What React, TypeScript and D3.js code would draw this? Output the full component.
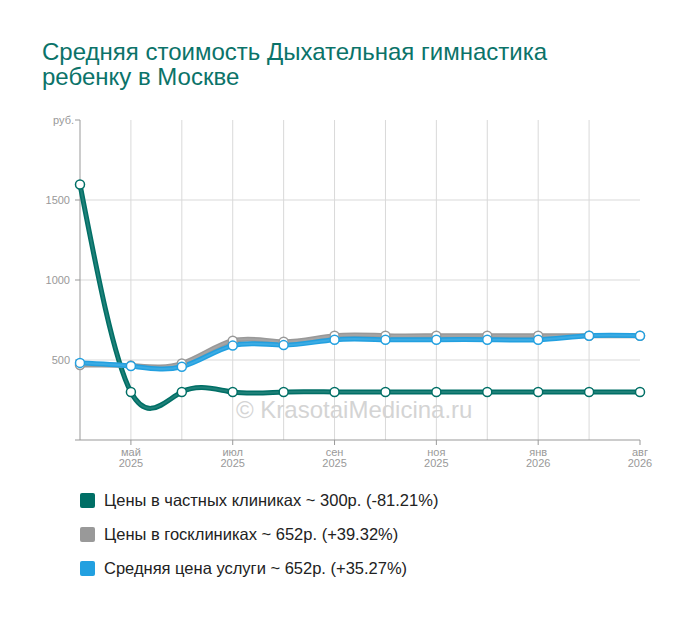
import * as d3 from "d3";
import React from "react";

const months = [
  "апр\n2025", "май\n2025", "июн\n2025", "июл\n2025", "авг\n2025", "сен\n2025",
  "окт\n2025", "ноя\n2025", "дек\n2025", "янв\n2026", "июн\n2026", "авг\n2026",
];
const labeledMonths = [1, 3, 5, 7, 9, 11];

const privateClinics = [1597, 300, 300, 300, 300, 300, 300, 300, 300, 300, 300, 300];
const stateClinics = [468, 465, 478, 620, 614, 652, 652, 652, 652, 652, 652, 652];
const averagePrice = [482, 462, 458, 590, 593, 627, 627, 627, 627, 627, 652, 652];

const yTicks = [500, 1000, 1500];

const series = [
  { name: "Цены в частных клиниках ~ 300р. (-81.21%)", color: "#006f66", values: privateClinics },
  { name: "Цены в госклиниках ~ 652р. (+39.32%)", color: "#999999", values: stateClinics },
  { name: "Средняя цена услуги ~ 652р. (+35.27%)", color: "#22a0e0", values: averagePrice },
];

const W = 700, H = 617;
const font = "'Liberation Sans', Arial, sans-serif";

export default function App() {
  const x = d3.scalePoint<number>().domain(d3.range(months.length)).range([80, 640]);
  const y = d3.scaleLinear().domain([0, 2000]).range([440, 120]);

  const line = d3
    .line<number>()
    .x((d, i) => x(i)!)
    .y((d) => y(d))
    .curve(d3.curveNatural);

  return (
    <svg width={W} height={H} style={{ position: "absolute", left: 0, top: 0, fontFamily: font }}>
      <rect width={W} height={H} fill="#fff" />
      <text fill="#0b7369" fontSize={24}>
        <tspan x={42} y={60}>Средняя стоимость Дыхательная гимнастика</tspan>
        <tspan x={42} y={85}>ребенку в Москве</tspan>
      </text>

      {/* grid */}
      {yTicks.map((t) => (
        <line key={t} x1={80} x2={640} y1={y(t)} y2={y(t)} stroke="#d9d9d9" />
      ))}
      {months.map((m, i) =>
        i === 0 || i === months.length - 1 ? null : (
          <line key={m + i} x1={x(i)} x2={x(i)} y1={120} y2={440} stroke="#d9d9d9" />
        )
      )}

      {/* axes */}
      <line x1={80} x2={80} y1={120} y2={440} stroke="#999" />
      <line x1={80} x2={640} y1={440} y2={440} stroke="#999" />
      {[0, ...yTicks, 2000].map((t) => (
        <line key={"yt" + t} x1={75} x2={80} y1={y(t)} y2={y(t)} stroke="#999" />
      ))}
      {yTicks.map((t) => (
        <text key={"yl" + t} x={70} y={y(t) + 4} textAnchor="end" fontSize={11} fill="#999">
          {t}
        </text>
      ))}
      <text x={74} y={124} textAnchor="end" fontSize={11} fill="#999">руб.</text>
      {labeledMonths.map((i) => {
        const [mon, yr] = months[i].split("\n");
        return (
          <g key={"xl" + i}>
            <line x1={x(i)} x2={x(i)} y1={440} y2={445} stroke="#999" />
            <text x={x(i)} textAnchor="middle" fontSize={11} fill="#999">
              <tspan x={x(i)} y={456}>{mon}</tspan>
              <tspan x={x(i)} y={467}>{yr}</tspan>
            </text>
          </g>
        );
      })}

      <text x={236} y={418} fontSize={24} fill="#d4d4d4">© KrasotaiMedicina.ru</text>

      {/* lines */}
      {series.map((s) => (
        <g key={s.name}>
          <path d={line(s.values)!} fill="none" stroke={s.color} strokeWidth={5} strokeLinecap="round" />
          <path d={line(s.values)!} fill="none" stroke="#fff" strokeOpacity={0.12} strokeWidth={2} />
        </g>
      ))}
      {series.map((s) =>
        s.values.map((v, i) => (
          <circle key={s.name + i} cx={x(i)} cy={y(v)} r={4.5} fill="#fff" stroke={s.color} strokeWidth={1.5} />
        ))
      )}

      {/* legend */}
      {series.map((s, i) => (
        <g key={"lg" + s.name} transform={`translate(80,${493 + i * 34})`}>
          <rect width={15} height={15} rx={2} fill={s.color} />
          <text x={24} y={13} fontSize={16.5} fill="#222">{s.name}</text>
        </g>
      ))}
    </svg>
  );
}
